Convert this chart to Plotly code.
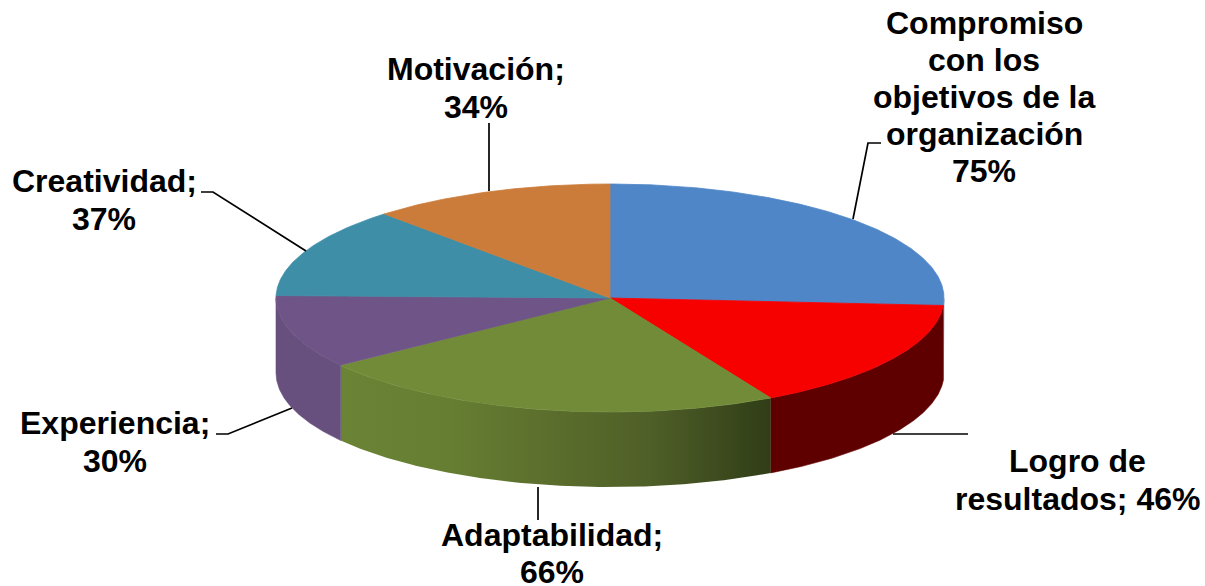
import numpy as np
import plotly.graph_objects as go

# ---- data ----
categories = ["Compromiso con los objetivos de la organización", "Logro de resultados",
              "Adaptabilidad", "Experiencia", "Creatividad", "Motivación"]
values = [75, 46, 66, 30, 37, 34]

# ---- label text, one entry per printed line ----
label_lines = ["Compromiso", "con los", "objetivos de la", "organización", "75%",
               "Logro de", "resultados; 46%",
               "Adaptabilidad;", "66%",
               "Experiencia;", "30%",
               "Creatividad;", "37%",
               "Motivación;", "34%"]
label_x = [984, 984, 984, 984, 984, 1077, 1077, 552, 552, 115, 115, 104, 104, 476, 476]
label_y = [23, 60, 97, 134, 171, 461, 499, 535, 572, 423, 461, 181, 219, 69, 107]

# ---- leader lines ----
leader_x = [[853, 868, 881], [893, 968], [538, 538], [292, 228, 216], [306, 213, 201], [489, 489]]
leader_y = [[219, 143, 143], [434, 434], [487, 520], [408, 434, 434], [251, 192, 192], [191, 123]]

# ---- styling ----
top_colors = ["#4F86C8", "#F60000", "#718B38", "#6F5587", "#3F8EA8", "#CC7C3A"]
wall_colors = ["#9FB4CE", "#5F0000", None, "#674F7E", "#3F8EA8", "#CC7C3A"]
green_wall_scale = [[0, "#6B8335"], [0.25, "#667E32"], [0.5, "#5B6D2C"],
                    [0.72, "#4F5F28"], [1, "#303D17"]]

CX, CY, RX, RY, DEPTH = 610, 298, 334, 114, 75


def ell(deg):
    t = np.radians(deg)
    return CX + RX * np.sin(t), CY - RY * np.cos(t)


edges = np.concatenate([[0], np.cumsum(values)]) / sum(values) * 360

fig = go.Figure()

# side walls (only the front half, 90..270 degrees clockwise from the top, is visible)
for i, v in enumerate(values):
    a0, a1 = max(edges[i], 90), min(edges[i + 1], 270)
    if a1 <= a0:
        continue
    ang = np.linspace(a0, a1, 160)
    x, y = ell(ang)
    xs = np.concatenate([x, x[::-1], x[:1]])
    ys = np.concatenate([y, y[::-1] + DEPTH, y[:1]])
    if wall_colors[i] is None:
        kw = dict(fillgradient=dict(type="horizontal", colorscale=green_wall_scale),
                  line=dict(width=0))
    else:
        kw = dict(fillcolor=wall_colors[i], line=dict(width=0.6, color=wall_colors[i]))
    fig.add_trace(go.Scatter(x=xs, y=ys, mode="lines", fill="toself",
                             hoverinfo="skip", showlegend=False, **kw))

# top surface (a hairline in the slice colour closes the seams between slices)
for i, v in enumerate(values):
    ang = np.linspace(edges[i], edges[i + 1], 240)
    x, y = ell(ang)
    xs = np.concatenate([[CX], x, [CX]])
    ys = np.concatenate([[CY], y, [CY]])
    fig.add_trace(go.Scatter(x=xs, y=ys, mode="lines", fill="toself", fillcolor=top_colors[i],
                             line=dict(width=0.8, color=top_colors[i]), name=categories[i],
                             hoverinfo="skip", showlegend=False))

# leader lines
for lx, ly in zip(leader_x, leader_y):
    fig.add_trace(go.Scatter(x=lx, y=ly, mode="lines", line=dict(color="#000000", width=1.7),
                             hoverinfo="skip", showlegend=False))

for t, x, y in zip(label_lines, label_x, label_y):
    fig.add_annotation(x=x, y=y, text="<b>%s</b>" % t, showarrow=False, xanchor="center",
                       yanchor="middle", xref="x", yref="y",
                       font=dict(family="Liberation Sans", size=32, color="#000000"))

fig.update_xaxes(range=[0, 1205], visible=False, fixedrange=True)
fig.update_yaxes(range=[586, 0], visible=False, fixedrange=True)
fig.update_layout(width=1205, height=586, margin=dict(l=0, r=0, t=0, b=0),
                  paper_bgcolor="#FFFFFF", plot_bgcolor="#FFFFFF")

fig.write_html("out.html", config={"displayModeBar": False},
               post_script="document.body.style.margin='0';")
